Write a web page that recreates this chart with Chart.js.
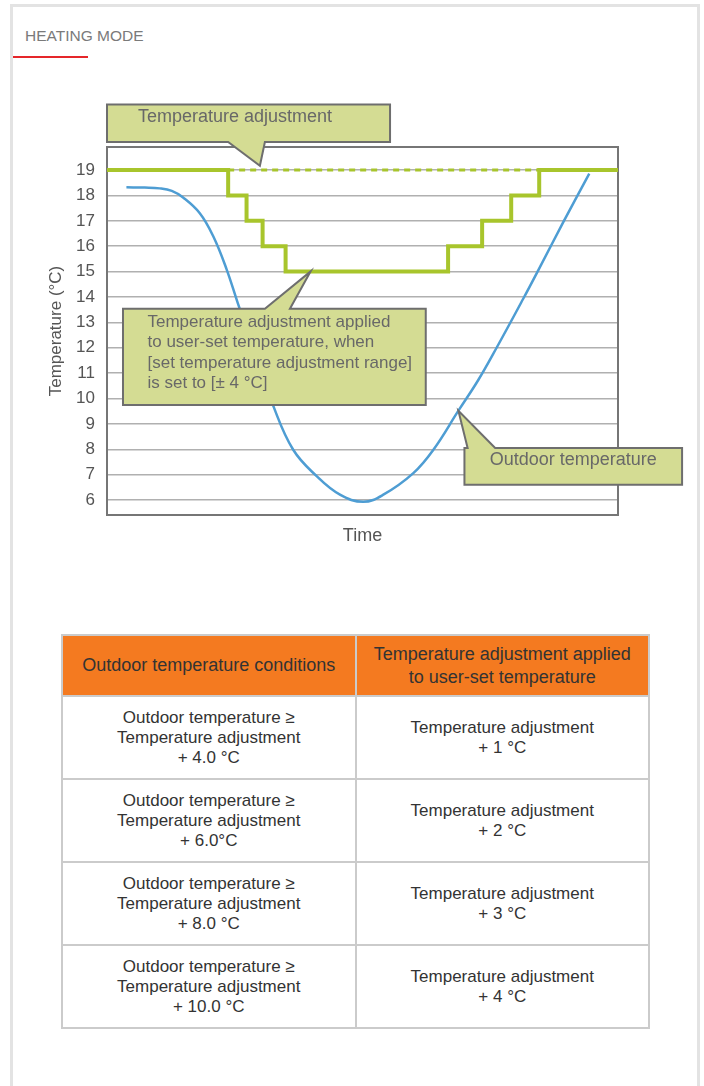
<!DOCTYPE html>
<html>
<head>
<meta charset="utf-8">
<script src="https://cdn.jsdelivr.net/npm/chart.js@4.4.0/dist/chart.umd.min.js"></script>
<style>
  html, body { margin: 0; padding: 0; background: #fff; }
  body { width: 704px; height: 1086px; position: relative; overflow: hidden; font-family: "Liberation Sans", Arial, sans-serif; }
  .card { position: absolute; left: 10px; top: 4px; width: 684px; height: 1100px; border: 3px solid #e3e3e3; }
  .heading { position: absolute; left: 25px; top: 27px; font-size: 15.5px; line-height: 18px; color: #7a7a7a; }
  .redline { position: absolute; left: 13px; top: 56px; width: 75px; height: 2px; background: #e5262a; }
  .chart-wrap { position: absolute; left: 0; top: 0; width: 704px; height: 560px; }
  table { position: absolute; left: 61px; top: 634px; width: 589px; border-collapse: collapse; color: #333; }
  th, td { border: 2px solid #cbcbcb; text-align: center; vertical-align: middle; width: 50%; padding: 0; }
  th { background: #f47a20; font-weight: normal; font-size: 18px; line-height: 23px; height: 59px; }
  td { font-size: 17px; line-height: 20px; height: 81px; }
</style>
</head>
<body>
<div class="card"></div>
<div class="heading">HEATING MODE</div>
<div class="redline"></div>
<div class="chart-wrap"><canvas id="heatChart"></canvas></div>

<table>
  <tr><th>Outdoor temperature conditions</th><th>Temperature adjustment applied<br>to user-set temperature</th></tr>
  <tr><td>Outdoor temperature ≥<br>Temperature adjustment<br>+ 4.0 °C</td><td>Temperature adjustment<br>+ 1 °C</td></tr>
  <tr><td>Outdoor temperature ≥<br>Temperature adjustment<br>+ 6.0°C</td><td>Temperature adjustment<br>+ 2 °C</td></tr>
  <tr><td>Outdoor temperature ≥<br>Temperature adjustment<br>+ 8.0 °C</td><td>Temperature adjustment<br>+ 3 °C</td></tr>
  <tr><td>Outdoor temperature ≥<br>Temperature adjustment<br>+ 10.0 °C</td><td>Temperature adjustment<br>+ 4 °C</td></tr>
</table>

<script>
// data (time is 0..100 across the plot)
const yTicks = [6, 7, 8, 9, 10, 11, 12, 13, 14, 15, 16, 17, 18, 19];

const adjTime = [0, 23.71, 27.31, 30.45, 34.95, 66.75, 73.41, 79.10, 84.58, 100];
const adjTemp = [19, 18, 17, 16, 15, 16, 17, 18, 19, 19];

const setTime = [23.71, 84.58];
const setTemp = [19, 19];

const outdoorTime = [3.80, 7.39, 10.33, 12.68, 14.89, 18.16, 20.77, 23.39, 25.61, 29.13, 32.52, 36.44,
  41.03, 45.59, 50.16, 54.08, 59.95, 63.87, 68.77, 72.69, 76.35, 81.45, 84.39, 89.29, 94.38];
const outdoorTemp = [18.32, 18.31, 18.28, 18.18, 17.92, 17.30, 16.40, 15.10, 13.75, 11.70, 9.72, 7.98,
  6.94, 6.21, 5.93, 6.21, 7.06, 7.98, 9.52, 10.74, 12.04, 13.93, 15.05, 16.95, 18.86];

function toPoints(xs, ys) {
  return xs.map((x, i) => ({ x: x, y: ys[i] }));
}

// callouts, placed in data units
const callouts = [
  { lines: ['Temperature adjustment'], box: [0, 55.39, 21.58, 20.11], side: 'bottom',
    base: [23.71, 30.90], tip: [29.92, 19.17], size: 18, align: 'left', dx: 31, dy: 12, lh: 20 },
  { lines: ['Temperature adjustment applied', 'to user-set temperature, when', '[set temperature adjustment range]', 'is set to [± 4 °C]'],
    box: [3.13, 62.38, 13.54, 9.74], side: 'top',
    base: [30.90, 35.80], tip: [39.85, 15.01], size: 17, align: 'left', dx: 24.5, dy: 13.7, lh: 20.4 },
  { lines: ['Outdoor temperature'], box: [69.95, 112.54, 8.05, 6.60], side: 'top',
    base: [70.57, 75.96], tip: [68.77, 9.52], size: 18, align: 'center', dx: 0, dy: 11.7, lh: 20 }
];

Chart.defaults.font.family = '"Liberation Sans", Arial, sans-serif';

const frameAndCallouts = {
  id: 'frameAndCallouts',
  beforeDatasetsDraw(chart) {
    const { ctx, chartArea: a } = chart;
    ctx.save();
    ctx.strokeStyle = '#767676';
    ctx.lineWidth = 2;
    ctx.strokeRect(a.left, a.top, a.right - a.left, a.bottom - a.top);
    ctx.restore();
  },
  afterDraw(chart) {
    const { ctx } = chart;
    const xs = chart.scales.x, ys = chart.scales.y;
    callouts.forEach(c => {
      const L = xs.getPixelForValue(c.box[0]), R = xs.getPixelForValue(c.box[1]);
      const T = ys.getPixelForValue(c.box[2]), B = ys.getPixelForValue(c.box[3]);
      const b0 = xs.getPixelForValue(c.base[0]), b1 = xs.getPixelForValue(c.base[1]);
      const tx = xs.getPixelForValue(c.tip[0]), ty = ys.getPixelForValue(c.tip[1]);
      ctx.save();
      ctx.beginPath();
      if (c.side === 'top') {
        ctx.moveTo(L, T); ctx.lineTo(b0, T); ctx.lineTo(tx, ty); ctx.lineTo(b1, T);
        ctx.lineTo(R, T); ctx.lineTo(R, B); ctx.lineTo(L, B);
      } else {
        ctx.moveTo(L, T); ctx.lineTo(R, T); ctx.lineTo(R, B); ctx.lineTo(b1, B);
        ctx.lineTo(tx, ty); ctx.lineTo(b0, B); ctx.lineTo(L, B);
      }
      ctx.closePath();
      ctx.fillStyle = '#d4dc93';
      ctx.fill();
      ctx.strokeStyle = '#6e6e6e';
      ctx.lineWidth = 2;
      ctx.stroke();

      ctx.fillStyle = '#686868';
      ctx.font = c.size + 'px "Liberation Sans", Arial, sans-serif';
      ctx.textBaseline = 'middle';
      ctx.textAlign = c.align;
      const x0 = c.align === 'center' ? (L + R) / 2 : L + c.dx;
      c.lines.forEach((t, i) => ctx.fillText(t, x0, T + c.dy + i * c.lh));
      ctx.restore();
    });
  }
};

new Chart(document.getElementById('heatChart'), {
  type: 'line',
  data: {
    datasets: [
      {
        label: 'Temperature adjustment',
        data: toPoints(adjTime, adjTemp),
        borderColor: '#a8c52c',
        borderWidth: 4,
        stepped: 'before',
        pointRadius: 0,
        fill: false
      },
      {
        label: 'User-set temperature',
        data: toPoints(setTime, setTemp),
        borderColor: '#a8c52c',
        borderWidth: 3,
        borderDash: [6, 5],
        pointRadius: 0,
        fill: false
      },
      {
        label: 'Outdoor temperature',
        data: toPoints(outdoorTime, outdoorTemp),
        borderColor: '#4e9dd3',
        borderWidth: 2.5,
        tension: 0.4,
        pointRadius: 0,
        fill: false
      }
    ]
  },
  options: {
    responsive: true,
    maintainAspectRatio: false,
    animation: false,
    layout: { padding: { left: 40, right: 86, top: 147, bottom: 0 } },
    plugins: {
      legend: { display: false },
      tooltip: { enabled: false }
    },
    scales: {
      x: {
        type: 'linear',
        min: 0,
        max: 100,
        ticks: { display: false },
        grid: { display: false },
        border: { display: false },
        title: { display: true, text: 'Time', color: '#555', font: { size: 18 }, padding: { top: 0, bottom: 13 } },
        afterFit: s => { s.height = 45; }
      },
      y: {
        min: 5.41,
        max: 19.91,
        afterBuildTicks: s => { s.ticks = yTicks.map(v => ({ value: v })); },
        ticks: { color: '#555', font: { size: 17 }, padding: 12 },
        grid: { color: '#b0b0b0', lineWidth: 1.5, drawTicks: false },
        border: { display: false },
        title: { display: true, text: 'Temperature (°C)', color: '#555', font: { size: 17 }, padding: { top: 6, bottom: 0 } },
        afterFit: s => { s.width = 67; }
      }
    }
  },
  plugins: [frameAndCallouts]
});
</script>
</body>
</html>
